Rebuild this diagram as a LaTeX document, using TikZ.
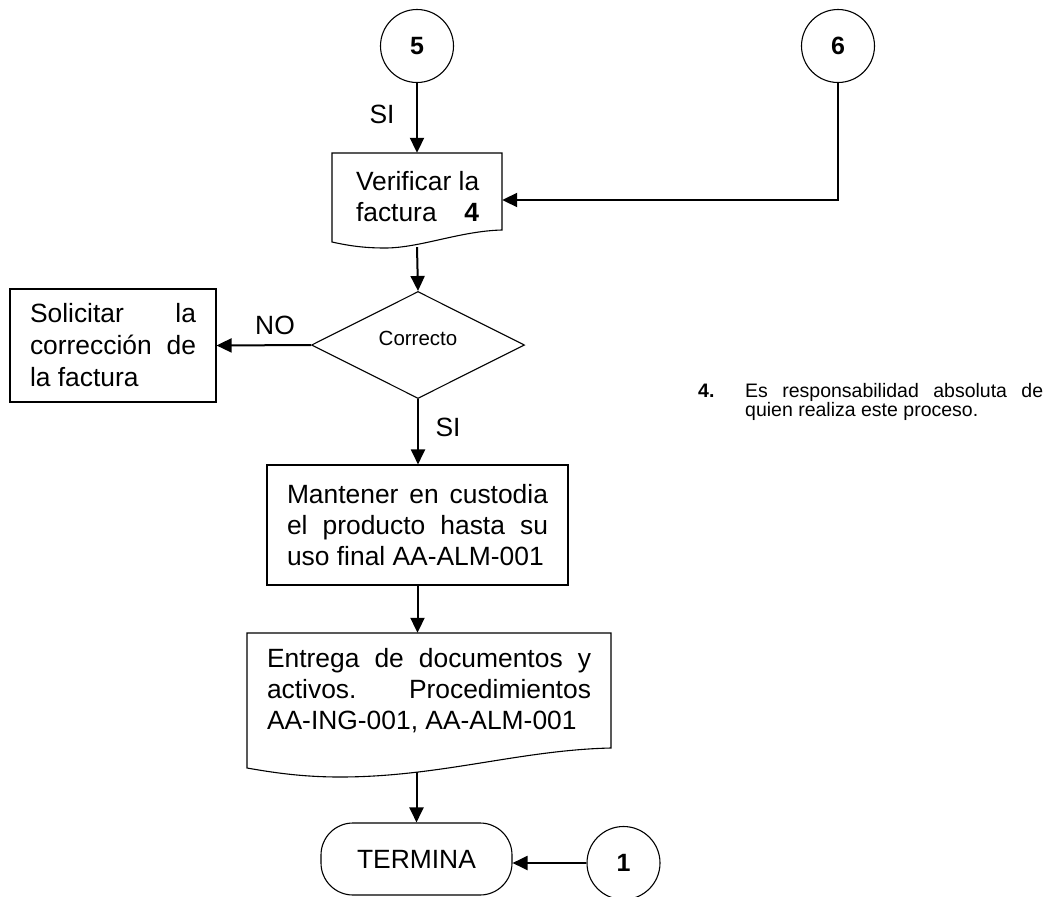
\documentclass[tikz,border=0pt]{standalone}
\usepackage{fontspec}
\setmainfont{Liberation Sans}
\usetikzlibrary{shapes.geometric,arrows.meta,calc}
\hbadness=10000
\hyphenpenalty=10000
\begin{document}
\begin{tikzpicture}[x=1pt,y=-1pt,
  shapeline/.style={draw,line width=1.1pt},
  box/.style={shapeline,inner sep=0pt},
  arr/.style={line width=2pt,-{Triangle[length=15pt,width=14pt]}},
  conn/.style={circle,draw,line width=1.1pt,minimum size=73pt,inner sep=0pt,font=\fontsize{25}{28}\selectfont\bfseries},
  big/.style={font=\fontsize{26.4}{31}\selectfont},
  lbl/.style={inner sep=0pt,font=\fontsize{26.4}{31}\selectfont},
  ghost/.style={inner sep=0pt,draw=none}
  ]
\useasboundingbox (0,0) rectangle (1047,897);

% connectors (circles)
\node[conn] (c5) at (417,46) {5};
\node[conn] (c6) at (838,46) {6};
\node[conn] (c1) at (623.5,863) {1};

% Verificar (document shape)
\node[ghost,minimum width=170pt,minimum height=94pt] (verif) at (417,200) {};
\draw[shapeline] (332,153) -- (502,153) -- (502,230)
  .. controls (460,231) and (420,248) .. (385,248)
  .. controls (365,248) and (350,246) .. (332,242) -- cycle;
\node[inner sep=0pt,big] (veriftxt) at (419.5,197)
  {\parbox{127pt}{Verificar la\\factura\hfill\textbf{4}\hspace*{4pt}}};

% decision
\node[diamond,aspect=2,shapeline,minimum width=213pt,minimum height=107pt,inner sep=0pt,
      text depth=13pt,font=\fontsize{20.5}{24}\selectfont] (dec) at (418,345) {Correcto};

% Solicitar
\node[box,minimum width=206pt,minimum height=113pt] (sol) at (113,345.5)
  {\parbox{166pt}{\fontsize{26.4}{32}\selectfont Solicitar la\linebreak corrección de\linebreak la factura}};

% Mantener
\node[box,minimum width=301pt,minimum height=120pt] (mant) at (417.5,525)
  {\parbox{261pt}{\fontsize{26.4}{31}\selectfont Mantener en custodia\linebreak el producto hasta su\linebreak uso final AA-ALM-001}};

% Entrega (document shape)
\node[ghost,minimum width=364pt,minimum height=139pt] (entr) at (429,702.5) {};
\draw[shapeline] (247,633) -- (611,633) -- (611,748)
  .. controls (520,750) and (440,777) .. (340,777)
  .. controls (300,777) and (270,772) .. (247,768) -- cycle;
\node[inner sep=0pt] (entrtxt) at (429,691)
  {\parbox{324pt}{\fontsize{26.4}{31}\selectfont Entrega de documentos y\linebreak activos. Procedimientos\linebreak AA-ING-001, AA-ALM-001}};

% Termina
\node[shapeline,rounded corners=32pt,minimum width=191pt,minimum height=72pt,inner sep=0pt,big] (term) at (416.5,859) {TERMINA};

% note
\node[inner sep=0pt,anchor=base west,font=\fontsize{19.5}{20}\selectfont\bfseries] (n4) at (698,397) {4.};
\node[inner sep=0pt,anchor=base west] (note) at (745,397)
  {\parbox[t]{298pt}{\fontsize{19.5}{19}\selectfont Es responsabilidad absoluta de\linebreak quien realiza este proceso.}};

% labels
\node[lbl] (si1) at (382,114) {SI};
\node[lbl] (no) at (275,325) {NO};
\node[lbl] (si2) at (448,427) {SI};

% arrows
\draw[arr] (c5.south) -- (verif.north);
\draw[arr] (c6.south) |- (verif.east);
\draw[arr] (verif.south) -- (dec.north);
\draw[arr] (dec.west) -- (sol.east);
\draw[arr] (dec.south) -- (dec.south |- mant.north);
\draw[arr] (mant.south) -- (mant.south |- entr.north);
\draw[arr] (term.north |- entr.south) -- (term.north);
\draw[arr] (c1.west) -- (c1.west -| term.east);
\end{tikzpicture}
\end{document}
